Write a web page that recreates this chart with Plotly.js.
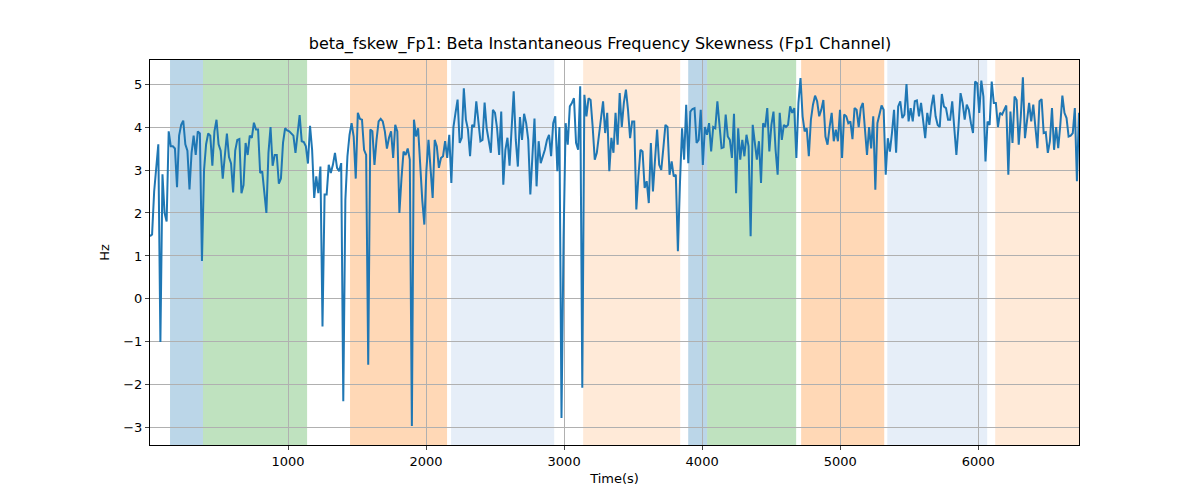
<!DOCTYPE html>
<html>
<head>
<meta charset="utf-8">
<script src="https://cdn.plot.ly/plotly-3.0.1.min.js"></script>
<style>body{margin:0;background:#fff}</style>
</head>
<body>
<div id="chart" style="width:1200px;height:500px"></div>
<script>
// skewness values, evenly spaced in time
var skew = [
1.46,1.5,2.5,3.0,3.6,-1.0,2.9,2.0,1.8,3.9,3.55,3.55,3.5,2.6,3.8,4.05,4.15,3.6,3.45,2.55,3.4,3.8,3.35,3.9,3.85,0.88,3.0,3.6,3.85,3.8,3.1,
3.9,4.17,3.6,3.45,2.8,3.35,3.85,3.3,3.15,2.48,3.45,3.7,3.72,2.46,2.65,3.63,3.35,3.8,3.75,4.1,3.94,3.94,2.93,2.97,2.46,2.0,3.4,4.0,3.1,3.35,3.35,
2.68,2.8,3.63,3.97,3.92,3.9,3.85,3.8,3.4,3.8,4.28,3.67,3.65,3.55,3.15,4.03,3.47,2.35,2.85,2.46,3.08,-0.64,2.43,2.43,3.12,2.93,3.12,3.4,3.05,2.97,
3.16,-2.38,2.3,3.32,3.82,4.09,3.78,2.8,4.33,4.19,4.17,3.47,3.35,-1.53,3.94,3.9,3.12,3.7,4.13,4.19,4.13,3.9,3.5,
3.75,3.9,3.28,4.05,3.9,2.0,2.8,3.43,3.35,3.5,3.24,-2.96,4.17,3.78,3.97,3.0,2.3,1.73,3.0,3.7,3.0,2.35,3.7,3.55,3.05,3.28,3.32,3.67,3.28,3.82,2.7,
4.0,4.33,4.64,3.63,3.75,4.9,4.17,3.94,3.32,4.05,4.0,4.6,4.13,3.67,3.7,4.57,3.97,3.7,3.4,4.4,4.33,3.97,3.35,4.36,2.66,3.47,3.75,3.1,4.0,4.83,
3.7,3.08,4.23,3.7,4.31,4.09,3.7,2.43,3.32,4.2,2.62,3.67,3.16,3.32,3.47,3.7,3.82,3.32,4.09,4.25,2.97,4.0,-2.77,1.42,4.09,3.59,4.48,4.56,4.67,3.63,
3.47,4.95,-2.07,4.75,4.25,4.67,4.63,4.0,3.24,3.4,3.82,4.33,4.6,3.86,4.33,2.97,3.75,3.4,4.33,3.59,4.79,
4.0,4.56,4.87,4.4,3.74,4.13,4.13,2.08,2.85,3.47,3.43,2.58,2.74,2.23,3.63,2.5,3.24,3.94,3.12,3.0,3.51,4.05,4.0,2.89,3.2,2.85,2.89,1.11,2.7,3.97,
3.24,4.52,3.16,4.36,4.42,4.44,3.63,3.7,4.4,3.12,4.0,3.82,4.09,3.43,4.0,3.97,4.6,4.09,3.51,3.53,4.29,3.78,3.7,3.28,4.31,2.46,3.97,3.24,3.7,3.32,
3.82,3.55,1.46,4.05,3.59,3.24,3.67,2.7,4.09,4.0,4.44,3.43,4.05,4.36,3.47,2.89,4.33,3.7,4.05,4.0,4.05,4.48,4.33,4.44,3.28,4.56,5.14,4.25,3.9,3.97,
3.32,4.17,4.52,4.73,4.6,4.25,4.4,4.63,3.78,3.59,4.0,4.33,3.67,3.94,3.67,4.4,3.28,4.29,4.25,4.09,
4.13,3.72,4.44,4.4,4.0,4.44,4.56,3.9,3.35,4.0,3.5,4.25,2.54,4.09,4.29,4.5,4.4,2.89,3.74,3.43,3.86,4.4,3.4,4.48,4.6,4.21,4.29,5.0,4.13,4.44,
4.13,4.6,4.62,4.25,4.56,4.21,3.74,4.33,4.05,4.48,4.75,4.25,4.05,4.0,4.77,4.48,4.44,4.17,4.17,4.6,3.97,3.35,4.0,4.79,4.56,4.17,4.52,4.4,4.09,3.86,
5.06,5.02,4.33,5.08,4.71,3.2,4.13,4.05,5.06,4.56,4.56,4.0,4.33,4.29,4.4,4.5,2.89,4.36,3.63,4.71,4.63,3.59,4.25,5.16,3.74,4.13,4.56,4.13,4.52,4.0,
3.51,4.6,4.65,3.86,3.88,3.4,3.67,4.44,3.47,4.0,3.51,4.05,4.73,4.33,4.21,3.78,3.8,3.86,4.44,2.74,4.33
];
var tEnd = 6730;
var step = tEnd / (skew.length - 1);
var times = skew.map(function (v, i) { return i * step; });

// shaded segments: start, end, colour
var bandStart = [145, 384, 1449, 2181, 3138, 3899, 4036, 4717, 5341, 6123];
var bandEnd   = [384, 1138, 2152, 2928, 3841, 4036, 4681, 5319, 6065, 6730];
var bandColor = ['rgba(31,119,180,0.3)', 'rgba(44,160,44,0.3)', 'rgba(255,127,14,0.3)',
                 'rgba(31,100,190,0.11)', 'rgba(255,127,14,0.16)', 'rgba(31,119,180,0.3)',
                 'rgba(44,160,44,0.3)', 'rgba(255,127,14,0.3)', 'rgba(31,100,190,0.11)',
                 'rgba(255,127,14,0.16)'];

var shapes = bandStart.map(function (s, i) {
	return {type: 'rect', xref: 'x', yref: 'paper', x0: s, x1: bandEnd[i], y0: 0, y1: 1,
		fillcolor: bandColor[i], line: {width: 0}, layer: 'below'};
});

var trace = {x: times, y: skew, type: 'scatter', mode: 'lines',
	line: {color: '#1f77b4', width: 2}};

var layout = {
	width: 1200, height: 500,
	margin: {l: 150, r: 121, t: 60, b: 55},
	paper_bgcolor: '#fff', plot_bgcolor: 'rgba(0,0,0,0)',
	font: {family: 'DejaVu Sans', size: 13, color: '#000'},
	title: {text: 'beta_fskew_Fp1: Beta Instantaneous Frequency Skewness (Fp1 Channel)',
		x: 0.5, xanchor: 'center', y: 0.925, font: {size: 16}},
	showlegend: false,
	shapes: shapes,
	xaxis: {range: [0, tEnd], tickvals: [1000, 2000, 3000, 4000, 5000, 6000],
		showgrid: true, gridcolor: '#b0b0b0', zeroline: false, ticks: 'outside', ticklen: 4,
		showline: true, mirror: true, linecolor: '#000',
		title: {text: 'Time(s)', standoff: 6, font: {size: 13}}},
	yaxis: {range: [-3.4, 5.56], dtick: 1, showgrid: true, gridcolor: '#b0b0b0',
		zeroline: false, ticks: 'outside', ticklen: 4, showline: true, mirror: true, linecolor: '#000',
		title: {text: 'Hz', standoff: 10, font: {size: 13}}}
};

Plotly.newPlot('chart', [trace], layout, {displayModeBar: false});
</script>
</body>
</html>
